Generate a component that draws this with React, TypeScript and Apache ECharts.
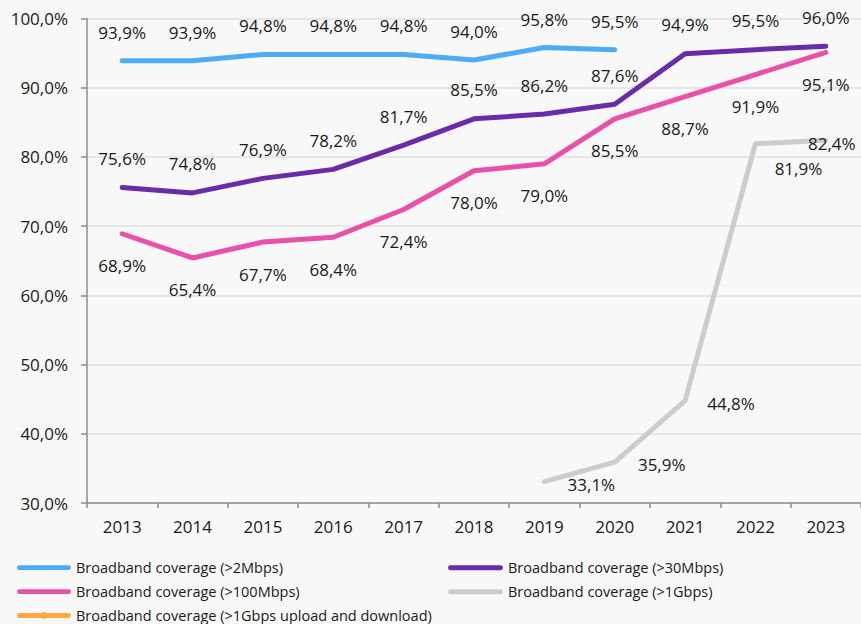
import React, { useEffect, useRef } from "react";
import * as echarts from "echarts";

const years = ["2013", "2014", "2015", "2016", "2017", "2018", "2019", "2020", "2021", "2022", "2023"];
const seriesNames = [
  "Broadband coverage (>2Mbps)",
  "Broadband coverage (>30Mbps)",
  "Broadband coverage (>100Mbps)",
  "Broadband coverage (>1Gbps)",
  "Broadband coverage (>1Gbps upload and download)",
];
const cov2 = [93.9, 93.9, 94.8, 94.8, 94.8, 94.0, 95.8, 95.5, null, null, null];
const cov30 = [75.6, 74.8, 76.9, 78.2, 81.7, 85.5, 86.2, 87.6, 94.9, 95.5, 96.0];
const cov100 = [68.9, 65.4, 67.7, 68.4, 72.4, 78.0, 79.0, 85.5, 88.7, 91.9, 95.1];
const cov1g = [null, null, null, null, null, null, 33.1, 35.9, 44.8, 81.9, 82.4];
const cov1gUpDown = [null, null, null, null, null, null, null, null, null, null, null];
const yTicks = { min: 30, max: 100, interval: 10 };

const colors = ["#4dabf7", "#6a2ba8", "#ea4fa9", "#cccccc", "#ffab40"];
const FONT = "'Open Sans', sans-serif";
const TXT = "#1a1a1a";

const fmt = (v: number) => v.toFixed(1).replace(".", ",") + "%";

const lineIcon = "path://M2.5,0 L53.5,0 A2.5,2.5 0 0 1 53.5,5 L2.5,5 A2.5,2.5 0 0 1 2.5,0 Z";
const diamondIcon =
  "path://M2.5,1.5 L25.5,1.5 L28,0 L30.5,1.5 L53.5,1.5 A2.5,2.5 0 0 1 53.5,6.5 L30.5,6.5 L28,8 L25.5,6.5 L2.5,6.5 A2.5,2.5 0 0 1 2.5,1.5 Z";

export default function App() {
  const ref = useRef<HTMLDivElement>(null);
  useEffect(() => {
    if (!ref.current) return;
    const chart = echarts.init(ref.current, null, { renderer: "svg" });

    const grayOffsets: Record<number, number[]> = {
      6: [47, 3],
      7: [47, 2],
      8: [46, 3],
      9: [43, 25],
      10: [6, 3],
    };

    const mkLabel = (offset: number[]) => ({
      show: true,
      position: "inside",
      offset,
      fontFamily: FONT,
      fontSize: 17,
      color: TXT,
      formatter: (p: any) => fmt(p.value),
    });

    const mkSeries = (name: string, data: any[], color: string, labelOffset: number[] | null, z: number) => ({
      name,
      type: "line",
      data,
      showSymbol: true,
      symbol: "circle",
      symbolSize: 0.01,
      connectNulls: false,
      z,
      lineStyle: { color, width: 5, cap: "round", join: "round" },
      itemStyle: { color },
      label: labelOffset ? mkLabel(labelOffset) : { show: false },
    });

    const grayData = cov1g.map((v, i) =>
      v == null ? null : { value: v, label: mkLabel(grayOffsets[i] || [40, 3]) }
    );

    const legendBase = {
      orient: "vertical",
      padding: 0,
      itemWidth: 54,
      itemHeight: 5,
      textStyle: { fontFamily: FONT, fontSize: 14.5, color: TXT, lineHeight: 18 },
      selectedMode: false,
    };

    chart.setOption({
      animation: false,
      backgroundColor: "#f8f8f8",
      grid: { left: 87, right: -3, top: 18.5, bottom: 121, containLabel: false },
      xAxis: {
        type: "category",
        data: years,
        boundaryGap: true,
        axisLine: { lineStyle: { color: "#8c8c8c", width: 1.5 } },
        axisTick: { show: true, length: 5, alignWithLabel: false, lineStyle: { color: "#8c8c8c", width: 1.5 } },
        axisLabel: { fontFamily: FONT, fontSize: 17, color: TXT, margin: 15 },
        splitLine: { show: false },
      },
      yAxis: {
        type: "value",
        min: yTicks.min,
        max: yTicks.max,
        interval: yTicks.interval,
        axisLine: { show: true, lineStyle: { color: "#8c8c8c", width: 1.5 } },
        axisTick: { show: true, length: 6, lineStyle: { color: "#8c8c8c", width: 1.5 } },
        axisLabel: { fontFamily: FONT, fontSize: 17, color: TXT, margin: 19, formatter: (v: number) => fmt(v) },
        splitLine: { show: true, lineStyle: { color: "#e6e6e6", width: 2 } },
      },
      legend: [
        { ...legendBase, left: 17, top: 558.7, data: [{ name: seriesNames[0], icon: lineIcon }] },
        { ...legendBase, left: 17, top: 582.7, data: [{ name: seriesNames[2], icon: lineIcon }] },
        {
          ...legendBase,
          left: 17,
          top: 606.5,
          itemHeight: 8,
          data: [{ name: seriesNames[4], icon: diamondIcon }],
        },
        { ...legendBase, left: 448, top: 558.7, itemWidth: 55, data: [{ name: seriesNames[1], icon: lineIcon }] },
        { ...legendBase, left: 448, top: 582.7, itemWidth: 55, data: [{ name: seriesNames[3], icon: lineIcon }] },
      ],
      series: [
        mkSeries(seriesNames[0], cov2, colors[0], [0, -28.5], 2),
        mkSeries(seriesNames[1], cov30, colors[1], [0, -29], 3),
        mkSeries(seriesNames[2], cov100, colors[2], [0, 32], 4),
        { ...mkSeries(seriesNames[3], grayData, colors[3], null, 5) },
        mkSeries(seriesNames[4], cov1gUpDown, colors[4], null, 6),
      ],
    });
    return () => chart.dispose();
  }, []);
  return (
    <div
      ref={ref}
      style={{ position: "absolute", left: 0, top: 0, width: 861, height: 624 }}
    />
  );
}
